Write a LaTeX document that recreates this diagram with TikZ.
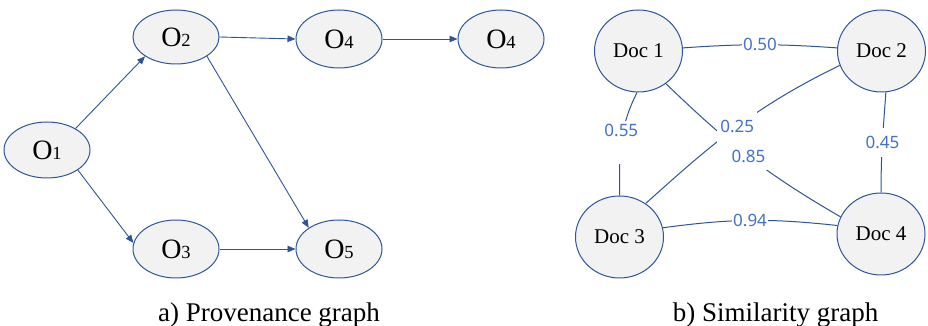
\documentclass[tikz,border=0pt]{standalone}
\usepackage{fontspec}
\setmainfont{Liberation Serif}
\newfontfamily\serf{Liberation Serif}
\newfontfamily\lblfont{Noto Sans}
\usetikzlibrary{shapes.geometric,arrows.meta}
\definecolor{edgeblue}{HTML}{2F5597}
\definecolor{lblblue}{HTML}{4472C4}
\definecolor{nodefill}{HTML}{F2F2F2}
\newcommand{\Obj}[1]{{\serf\fontsize{28}{28}\selectfont O}{\serf\fontsize{18.5}{18.5}\selectfont #1}}
\begin{document}
\begin{tikzpicture}[x=1pt,y=1pt,
  obj/.style={ellipse, draw=edgeblue, fill=nodefill, line width=1pt, minimum width=86pt, minimum height=58pt, inner sep=0pt},
  doc/.style={ellipse, draw=edgeblue, fill=nodefill, line width=1pt, minimum width=88pt, minimum height=82pt, inner sep=0pt, font=\serf\fontsize{21}{21}\selectfont},
  arr/.style={draw=edgeblue, line width=0.9pt, -{Triangle[length=8pt,width=6.5pt]}},
  sim/.style={draw=edgeblue, line width=1pt},
  lbl/.style={fill=white, text=lblblue, font=\lblfont\fontsize{17}{17}\selectfont, inner xsep=1.5pt, inner ysep=6pt},
  captxt/.style={font=\serf\fontsize{27}{27}\selectfont, anchor=base}]
\useasboundingbox (0,0) rectangle (928,326);
\fill[white] (0,0) rectangle (928,326);

% Provenance graph
\node[obj, minimum height=56pt] (o1) at (47,176) {\Obj{1}};
\node[obj, minimum height=54pt] (o2) at (176,289) {\Obj{2}};
\node[obj] (o4) at (339,287) {\Obj{4}};
\node[obj] (o4b) at (501,287) {\Obj{4}};
\node[obj] (o3) at (176,77) {\Obj{3}};
\node[obj] (o5) at (339,77) {\Obj{5}};

\draw[arr] (o1.37) -- (o2.212);
\draw[arr] (o1.-33) -- (o3.172);
\draw[arr] (o2.-32) -- (o5.145);
\draw[arr] (o2.east) -- (o4.west);
\draw[arr] (o4.east) -- (o4b.west);
\draw[arr] (o3.east) -- (o5.west);

\node[captxt] (capa) at (269,4) {a) Provenance graph};

% Similarity graph
\node[doc] (d1) at (638.5,275) {Doc 1};
\node[doc] (d2) at (881.5,275) {Doc 2};
\node[doc] (d3) at (619.5,89) {Doc 3};
\node[doc] (d4) at (881,92) {Doc 4};

\draw[sim] (d1.4) to[bend left=4] node[lbl] {0.50} (d2.176);
\draw[sim] (d1.-92) to[out=243,in=90] node[lbl, inner ysep=2pt, text height=14pt, text depth=25pt] {0.55} (d3.north);
\draw[sim] (d1.-50) to[out=-44,in=150] node[lbl, inner xsep=2pt, inner ysep=7.5pt] {0.85} (d4.157);
\draw[sim] (d3.52) to[out=42,in=206] node[lbl, inner xsep=3pt, inner ysep=10pt] {0.25} (d2.199);
\draw[sim] (d2.-84) to[out=-94,in=90] node[lbl, inner ysep=8pt] {0.45} (d4.north);
\draw[sim] (d3.12) to[bend left=7] node[lbl] {0.94} (d4.169);

\node[captxt] (capb) at (775.5,4) {b) Similarity graph};
\end{tikzpicture}
\end{document}
